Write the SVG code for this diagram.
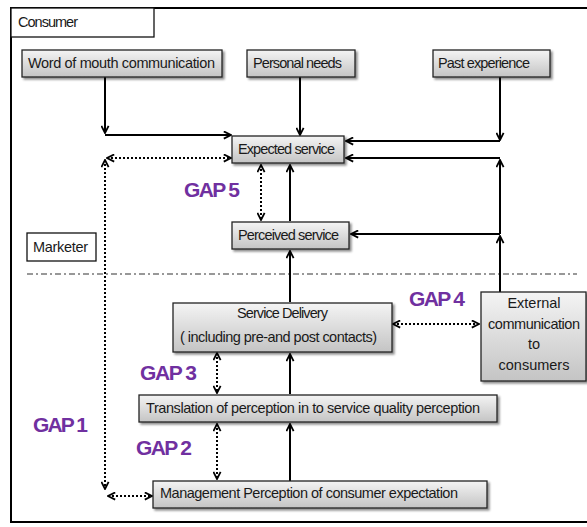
<svg xmlns="http://www.w3.org/2000/svg" width="587" height="527" viewBox="0 0 587 527">
<style>
.box{fill:url(#g);stroke:#222;stroke-width:1.3;filter:url(#sh)}
.plain{fill:#fff;stroke:#111;stroke-width:1.3}
.t{font-family:"Liberation Sans",Arial,sans-serif;font-size:14.5px;fill:#1a1a1a}
.gap{font-family:"Liberation Sans",Arial,sans-serif;font-size:21px;font-weight:bold;fill:#7030A0}
.s{stroke:#000;stroke-width:2;fill:none}
.dd{stroke:#000;stroke-width:2;fill:none;stroke-dasharray:2 2;marker-start:url(#ah);marker-end:url(#ah)}
.a{marker-end:url(#ah)}
</style>
<defs>
<linearGradient id="g" x1="0" y1="0" x2="0" y2="1">
<stop offset="0" stop-color="#f4f4f4"/>
<stop offset="1" stop-color="#c4c4c4"/>
</linearGradient>
<filter id="sh" x="-10%" y="-20%" width="130%" height="160%">
<feDropShadow dx="2" dy="2" stdDeviation="1.2" flood-color="#000" flood-opacity="0.45"/>
</filter>
<marker id="ah" viewBox="0 0 10 10" refX="9" refY="5" markerWidth="9" markerHeight="9" markerUnits="userSpaceOnUse" orient="auto-start-reverse">
<path d="M1,1 L9,5 L1,9" fill="none" stroke="#000" stroke-width="2"/>
</marker>
</defs>

<rect x="11" y="8" width="600" height="514" fill="#fff" stroke="#000" stroke-width="2"/>

<g id="consumer"><rect class="plain" x="11" y="8" width="143" height="29"/><text class="t" x="18" y="27" textLength="60">Consumer</text></g>
<g id="marketer"><rect class="plain" x="27" y="233" width="69" height="28"/><text class="t" x="33" y="252" textLength="55">Marketer</text></g>

<line x1="27" y1="274" x2="577" y2="274" stroke="#333" stroke-width="1.2" stroke-dasharray="6 3 2 3"/>

<g id="connectors">
<path class="s a" d="M105,77 V133"/>
<path class="s a" d="M105,135 H231"/>
<path class="s a" d="M300,77 V135"/>
<path class="s a" d="M500,77 V140"/>
<path class="s a" d="M500,141 H346"/>
<path class="s a" d="M500,292 V236"/>
<path class="s a" d="M500,234 H351"/>
<path class="s a" d="M500,234 V160"/>
<path class="s a" d="M500,158 H346"/>
<path class="s a" d="M290,221 V165"/>
<path class="s a" d="M290,302 V251"/>
<path class="s a" d="M290,394 V354"/>
<path class="s a" d="M290,481 V424"/>
<path class="dd" d="M107,158 H231"/>
<path class="dd" d="M105,160 V489"/>
<path class="dd" d="M108,496 H152"/>
<path class="dd" d="M261,165 V220"/>
<path class="dd" d="M217,353 V393"/>
<path class="dd" d="M217,424 V479"/>
<path class="dd" d="M393,324 H479"/>
</g>

<g id="word"><rect class="box" x="22" y="50" width="200" height="27"/><text class="t" x="28" y="68" textLength="187">Word of mouth communication</text></g>
<g id="personal"><rect class="box" x="247" y="50" width="108" height="27"/><text class="t" x="253" y="68" textLength="89">Personal needs</text></g>
<g id="past"><rect class="box" x="433" y="50" width="117" height="27"/><text class="t" x="438" y="68" textLength="92">Past experience</text></g>
<g id="expected"><rect class="box" x="232" y="136" width="112" height="27"/><text class="t" x="238" y="154" textLength="97">Expected service</text></g>
<g id="perceived"><rect class="box" x="232" y="222" width="117" height="27"/><text class="t" x="238" y="240" textLength="101">Perceived service</text></g>
<g id="delivery"><rect class="box" x="173" y="303" width="219" height="49"/><text class="t" x="237" y="318" textLength="91">Service Delivery</text><text class="t" x="180" y="342" textLength="197">( including pre-and post contacts)</text></g>
<g id="external"><rect class="box" x="481" y="292" width="105" height="89"/>
<text class="t" x="534" y="308" text-anchor="middle">External</text>
<text class="t" x="534" y="329" text-anchor="middle" textLength="92">communication</text>
<text class="t" x="534" y="349" text-anchor="middle">to</text>
<text class="t" x="534" y="370" text-anchor="middle">consumers</text></g>
<g id="translation"><rect class="box" x="139" y="395" width="358" height="27"/><text class="t" x="146" y="413" textLength="334">Translation of perception  in to service quality perception</text></g>
<g id="management"><rect class="box" x="153" y="481" width="334" height="27"/><text class="t" x="160" y="498" textLength="298">Management Perception of consumer  expectation</text></g>

<g id="gaps">
<text class="gap" x="184" y="197" textLength="56">GAP 5</text>
<text class="gap" x="409" y="306" textLength="56">GAP 4</text>
<text class="gap" x="140" y="380" textLength="57">GAP 3</text>
<text class="gap" x="33" y="432" textLength="55">GAP 1</text>
<text class="gap" x="136" y="455" textLength="56">GAP 2</text>
</g>
</svg>
